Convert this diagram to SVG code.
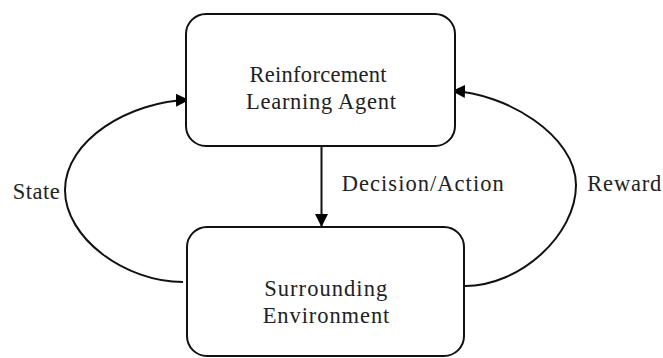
<svg xmlns="http://www.w3.org/2000/svg" width="663" height="358" viewBox="0 0 663 358">
  <defs>
    <marker id="arrow" markerUnits="userSpaceOnUse" markerWidth="14" markerHeight="13" refX="13" refY="6.5" orient="auto">
      <path d="M0,0 L13,6.5 L0,13 Z" fill="#000"/>
    </marker>
  </defs>
  <style>
    .box { fill: #fff; stroke: #111; stroke-width: 2; }
    .link { fill: none; stroke: #111; stroke-width: 2; }
    .label { font-family: "Liberation Serif", "Times New Roman", serif; font-size: 22.5px; fill: #222; }
  </style>
  <rect width="663" height="358" fill="#fff"/>

  <!-- connectors -->
  <g id="connectors">
    <path class="link" d="M321.5,146 L321.5,227" marker-end="url(#arrow)"/>
    <path class="link" d="M183,282 C125,282 65,238 65,190 C65,140 130,101 189,100" marker-end="url(#arrow)"/>
    <path class="link" d="M465,286 C520,286 576,235 576,185 C576,135 505,93 452,91" marker-end="url(#arrow)"/>
  </g>

  <!-- agent -->
  <g id="agent">
    <rect class="box" x="186" y="14" width="269" height="132" rx="20" ry="20"/>
    <text class="label" x="318" y="81.5" text-anchor="middle" textLength="137">Reinforcement</text>
    <text class="label" x="321" y="109" text-anchor="middle" textLength="150">Learning Agent</text>
  </g>

  <!-- environment -->
  <g id="environment">
    <rect class="box" x="187" y="227" width="277" height="129" rx="20" ry="20"/>
    <text class="label" x="325.7" y="296" text-anchor="middle" textLength="123">Surrounding</text>
    <text class="label" x="326" y="323.3" text-anchor="middle" textLength="126.7">Environment</text>
  </g>

  <!-- edge labels -->
  <g id="labels">
    <text class="label" x="341.7" y="190.7" textLength="162">Decision/Action</text>
    <text class="label" x="12.7" y="199" textLength="47">State</text>
    <text class="label" x="587.3" y="190.7" textLength="74">Reward</text>
  </g>
</svg>
